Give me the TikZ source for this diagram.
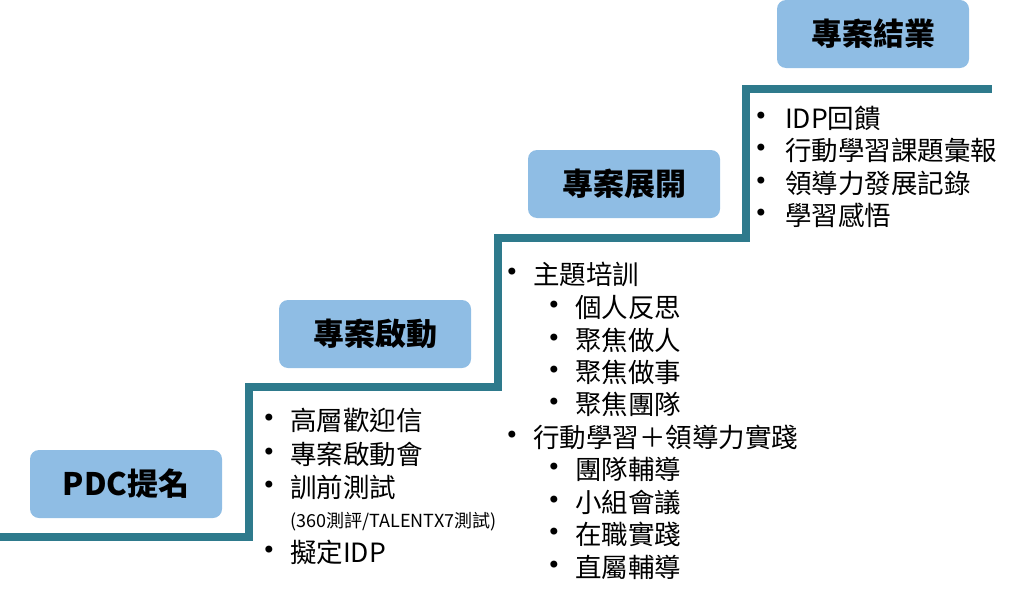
\documentclass[tikz,border=0pt]{standalone}
\usepackage{fontspec}
\setmainfont{Noto Sans CJK TC}
\newfontfamily\bulletfont{DejaVu Sans}
\definecolor{stair}{HTML}{2E7A8C}
\definecolor{boxfill}{HTML}{8FBDE4}
\begin{document}
\begin{tikzpicture}[x=1pt,y=-1pt,
  stage/.style={fill=boxfill,rounded corners=9pt,minimum width=192pt,minimum height=68pt,inner sep=0pt,font=\fontsize{31}{31}\selectfont\bfseries},
  item/.style={anchor=west,inner sep=0pt,font=\fontsize{26.5}{30}\selectfont},
  small/.style={anchor=west,inner sep=0pt,font=\fontsize{18}{20}\selectfont},
  bul/.style={anchor=center,inner sep=0pt,font=\bulletfont\fontsize{24}{24}\selectfont}]
\useasboundingbox (0,0) rectangle (1024,602);
% staircase
\coordinate (s0) at (0,537);
\coordinate (s1) at (249,537);
\coordinate (s2) at (249,387);
\coordinate (s3) at (498,387);
\coordinate (s4) at (498,238);
\coordinate (s5) at (746,238);
\coordinate (s6) at (746,89);
\coordinate (s7) at (992,89);
\draw[stair,line width=8.5pt,line join=miter] (s0) -- (s1) -- (s2) -- (s3) -- (s4) -- (s5) -- (s6) -- (s7);
% stage boxes
\node[stage] (b1) at (126,484) {PDC提名};
\node[stage] (b2) at (375,334) {專案啟動};
\node[stage] (b3) at (624,184) {專案展開};
\node[stage] (b4) at (873,34) {專案結業};
% list 1
\node[bul] (p1) at (269,420) {•}; \node[item] (t1) at (290,420) {高層歡迎信};
\node[bul] (p2) at (269,454) {•}; \node[item] (t2) at (290,454) {專案啟動會};
\node[bul] (p3) at (269,487) {•}; \node[item] (t3) at (290,487) {訓前測試};
\node[small] (t4) at (290,522) {(360測評/TALENTX7測試)};
\node[bul] (p5) at (269,552) {•}; \node[item] (t5) at (290,552) {擬定IDP};
% list 2
\node[bul] (q1) at (512,274) {•}; \node[item] (u1) at (533,274) {主題培訓};
\node[bul] (q2) at (554,307) {•}; \node[item] (u2) at (575,307) {個人反思};
\node[bul] (q3) at (554,340) {•}; \node[item] (u3) at (575,340) {聚焦做人};
\node[bul] (q4) at (554,372) {•}; \node[item] (u4) at (575,372) {聚焦做事};
\node[bul] (q5) at (554,404) {•}; \node[item] (u5) at (575,404) {聚焦團隊};
\node[bul] (q6) at (512,437) {•}; \node[item] (u6) at (533,437) {行動學習＋領導力實踐};
\node[bul] (q7) at (554,469) {•}; \node[item] (u7) at (575,469) {團隊輔導};
\node[bul] (q8) at (554,502) {•}; \node[item] (u8) at (575,502) {小組會議};
\node[bul] (q9) at (554,534) {•}; \node[item] (u9) at (575,534) {在職實踐};
\node[bul] (q10) at (554,567) {•}; \node[item] (u10) at (575,567) {直屬輔導};
% list 3
\node[bul] (r1) at (761,118) {•}; \node[item] (v1) at (785,118) {IDP回饋};
\node[bul] (r2) at (761,150) {•}; \node[item] (v2) at (785,150) {行動學習課題彙報};
\node[bul] (r3) at (761,183) {•}; \node[item] (v3) at (785,183) {領導力發展記錄};
\node[bul] (r4) at (761,215) {•}; \node[item] (v4) at (785,215) {學習感悟};
\end{tikzpicture}
\end{document}
